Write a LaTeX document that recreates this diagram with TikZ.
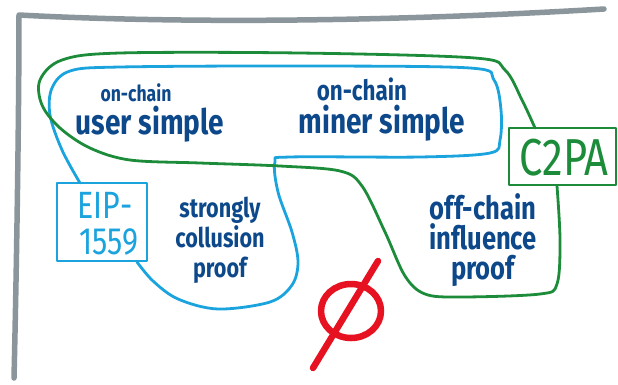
\documentclass[tikz,border=0pt]{standalone}
\usepackage{fontspec}
\newfontfamily\hand{Fira Sans}[FakeStretch=0.8]
\definecolor{axisgray}{RGB}{138,150,155}
\definecolor{lblue}{RGB}{27,163,222}
\definecolor{dgreen}{RGB}{28,140,58}
\definecolor{ink}{RGB}{12,72,138}
\definecolor{sred}{RGB}{230,18,34}
\begin{document}
\begin{tikzpicture}[x=1pt,y=-1pt,line cap=round,line join=round,
  axisline/.style={draw=axisgray,line width=5.5pt},
  blueline/.style={draw=lblue,line width=2.8pt},
  greenline/.style={draw=dgreen,line width=2.8pt},
  lbl/.style={text=ink,font=\hand,align=center,inner sep=0pt},
  boxlbl/.style={inner sep=0pt,line width=2pt}]
\useasboundingbox (0,0) rectangle (618,384);
% axes
\draw[axisline] (14,378) .. controls (17,250) and (19,100) .. (19,15)
  .. controls (150,22) and (350,24) .. (604,9);
% boxes
\node[boxlbl,draw=lblue,minimum width=90pt,minimum height=78pt] (eip) at (101.5,222) {};
\node[lbl,text=lblue,font=\hand\fontsize{38}{36}\selectfont] (eiptxt) at (105,224) {EIP-\\\ 1559};
\node[boxlbl,draw=dgreen,minimum width=107pt,minimum height=57pt] (c2pa) at (562.5,156.5) {};
\node[lbl,text=dgreen,font=\hand\fontsize{52}{52}\selectfont] (c2patxt) at (564,158) {C2PA};
% blue curve
\draw[blueline] plot[smooth,tension=0.55] coordinates {(80,183) (62,150) (50,115) (52,88) (70,71) (120,67) (300,66) (470,68) (494,80) (501,110) (500,140) (490,153) (420,157) (290,157) (275,162) (278,192) (292,232) (298,262) (292,285) (270,302) (218,309) (178,299) (153,281) (137,262)};
% green curve
\draw[greenline] plot[smooth,tension=0.55] coordinates {(535,128) (522,100) (505,70) (475,58) (300,53) (120,53) (62,60) (40,80) (42,105) (60,128) (90,148) (130,160) (200,163) (280,166) (340,171) (362,186) (385,232) (405,276) (425,294) (460,297) (540,294) (557,284) (560,240) (557,186)};
% empty set
\draw[sred,line width=6.5pt] (351,311) ellipse [x radius=30, y radius=27];
\draw[sred,line width=6.5pt] (378,261) -- (313,368);
% labels
\node[lbl,font=\hand\bfseries\fontsize{22}{22}\selectfont] (oc1) at (136,93) {on-chain};
\node[lbl,font=\hand\bfseries\fontsize{35}{35}\selectfont] (us) at (150,124) {user simple};
\node[lbl,font=\hand\bfseries\fontsize{28}{28}\selectfont] (oc2) at (362,89) {on-chain};
\node[lbl,font=\hand\bfseries\fontsize{35}{35}\selectfont] (ms) at (382,123) {miner simple};
\node[lbl,font=\hand\bfseries\fontsize{27}{30}\selectfont] (scp) at (220,240) {strongly\\collusion\\proof};
\node[lbl,font=\hand\bfseries\fontsize{32}{30}\selectfont] (ocip) at (483,240) {off-chain\\influence\\proof};
\end{tikzpicture}
\end{document}
